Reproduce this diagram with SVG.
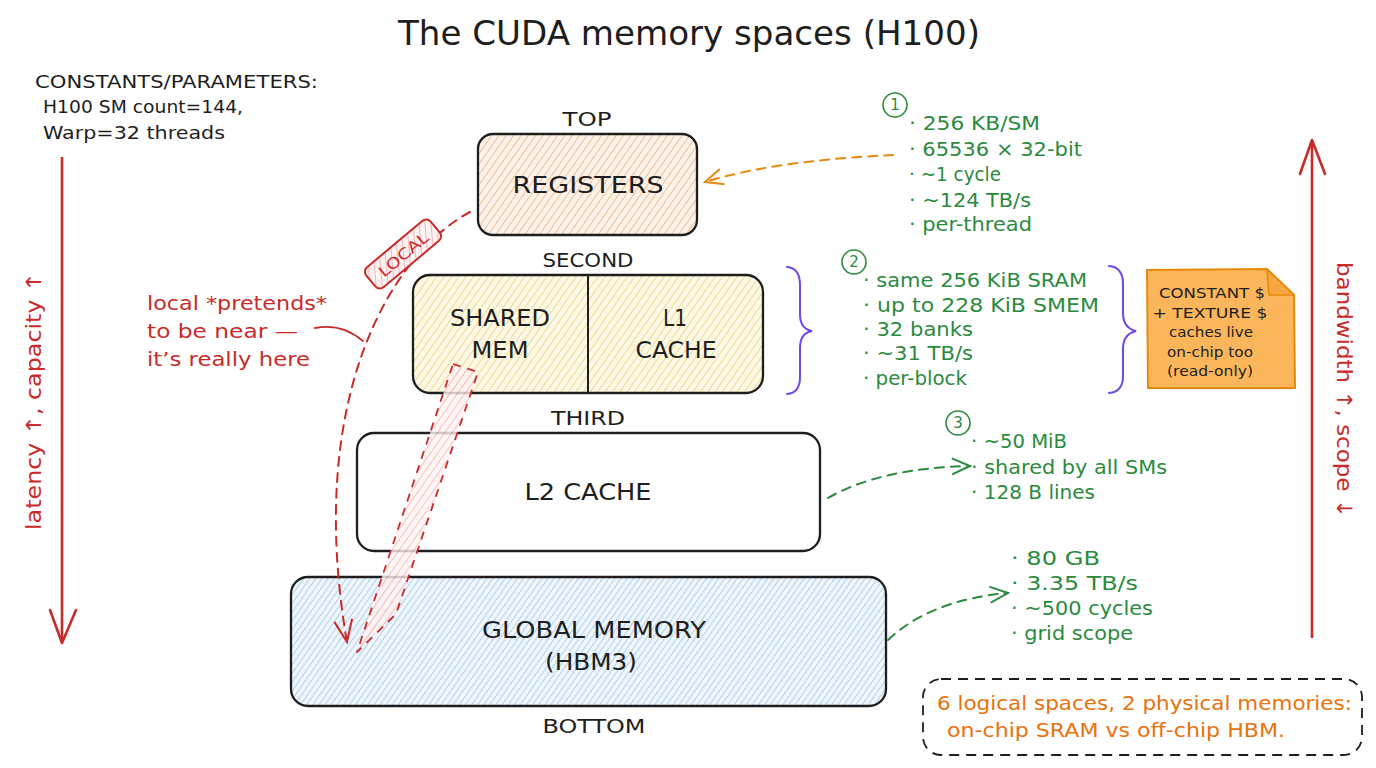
<svg xmlns="http://www.w3.org/2000/svg" width="1376" height="768" viewBox="0 0 1376 768">
<defs>
<style>
text{font-family:"DejaVu Sans","Liberation Sans",sans-serif;fill:#1e1e1e}
.t{font-size:33px}
.k{font-size:18px}
.lbl{font-size:20px;text-anchor:middle}
.box{font-size:23px;text-anchor:middle}
.g{font-size:20px;fill:#2b8a3e}
.r{font-size:20px;fill:#c92a2a}
.o{font-size:20px;fill:#e8720c}
.n{font-size:14.5px;text-anchor:middle}
.frame{stroke:#1e1e1e;stroke-width:2.3;stroke-linejoin:round}
.num{fill:none;stroke:#2b8a3e;stroke-width:1.6}
.numt{font-size:15px;fill:#2b8a3e;text-anchor:middle}
.dash{fill:none;stroke-width:2;stroke-dasharray:9 7;stroke-linecap:round}
</style>
<pattern id="hO" width="6" height="6" patternUnits="userSpaceOnUse" patternTransform="rotate(35)">
<rect width="6" height="6" fill="#fdf3ea"/><line x1="0" y1="0" x2="0" y2="6" stroke="#efb98a" stroke-width="1.8"/>
</pattern>
<pattern id="hY" width="6" height="6" patternUnits="userSpaceOnUse" patternTransform="rotate(35)">
<rect width="6" height="6" fill="#fdf9e6"/><line x1="0" y1="0" x2="0" y2="6" stroke="#ecd887" stroke-width="1.8"/>
</pattern>
<pattern id="hB" width="5" height="5" patternUnits="userSpaceOnUse" patternTransform="rotate(35)">
<rect width="5" height="5" fill="#eef5fb"/><line x1="0" y1="0" x2="0" y2="5" stroke="#98c3e6" stroke-width="1.4"/>
</pattern>
<pattern id="hR" width="6" height="6" patternUnits="userSpaceOnUse" patternTransform="rotate(35)">
<rect width="6" height="6" fill="#fff2f2"/><line x1="0" y1="0" x2="0" y2="6" stroke="#ef9f9f" stroke-width="1.5"/>
</pattern>
<marker id="aO" markerUnits="userSpaceOnUse" markerWidth="24" markerHeight="24" viewBox="0 0 24 24" refX="22" refY="12" orient="auto"><path d="M4 4 L22 12 L4 20" fill="none" stroke="#e8890c" stroke-width="2"/></marker>
<marker id="aG" markerUnits="userSpaceOnUse" markerWidth="24" markerHeight="24" viewBox="0 0 24 24" refX="22" refY="12" orient="auto"><path d="M4 4 L22 12 L4 20" fill="none" stroke="#2b8a3e" stroke-width="2"/></marker>
<marker id="aR" markerUnits="userSpaceOnUse" markerWidth="28" markerHeight="28" viewBox="0 0 28 28" refX="26" refY="14" orient="auto"><path d="M4 5 L26 14 L4 23" fill="none" stroke="#c92a2a" stroke-width="2"/></marker>
</defs>
<rect width="1376" height="768" fill="#ffffff"/>

<g id="title"><text class="t" x="398" y="45" textLength="582" lengthAdjust="spacingAndGlyphs">The CUDA memory spaces (H100)</text></g>

<g id="constants">
<text class="k" x="35" y="88" textLength="283" lengthAdjust="spacingAndGlyphs">CONSTANTS/PARAMETERS:</text>
<text class="k" x="43" y="113" textLength="200" lengthAdjust="spacingAndGlyphs">H100 SM count=144,</text>
<text class="k" x="43" y="139" textLength="182" lengthAdjust="spacingAndGlyphs">Warp=32 threads</text>
</g>

<g id="axis-left">
<line x1="62" y1="157" x2="62" y2="642" stroke="#c92a2a" stroke-width="2.6"/>
<path d="M50 610 L62 643 L76 610" fill="none" stroke="#c92a2a" stroke-width="2.6" stroke-linecap="round" stroke-linejoin="round"/>
<text class="r" transform="translate(41,401) rotate(-90)" text-anchor="middle" style="font-size:21px" textLength="258" lengthAdjust="spacingAndGlyphs">latency ↑, capacity ↑</text>
</g>

<g id="axis-right">
<line x1="1312" y1="141" x2="1312" y2="638" stroke="#c92a2a" stroke-width="2.6"/>
<path d="M1300 174 L1312 140 L1325 174" fill="none" stroke="#c92a2a" stroke-width="2.6" stroke-linecap="round" stroke-linejoin="round"/>
<text class="r" transform="translate(1337,390) rotate(90)" text-anchor="middle" style="font-size:21px" textLength="256" lengthAdjust="spacingAndGlyphs">bandwidth ↑, scope ↓</text>
</g>

<g id="registers">
<text class="lbl" x="587" y="126" textLength="49" lengthAdjust="spacingAndGlyphs">TOP</text>
<rect class="frame" x="478" y="134" width="219" height="101" rx="15" fill="url(#hO)"/>
<text class="box" x="588" y="193" textLength="151" lengthAdjust="spacingAndGlyphs">REGISTERS</text>
</g>

<g id="shared-l1">
<text class="lbl" x="588" y="267" textLength="91" lengthAdjust="spacingAndGlyphs">SECOND</text>
<rect class="frame" x="413" y="275" width="350" height="118" rx="17" fill="url(#hY)"/>
<line x1="588" y1="275" x2="588" y2="393" stroke="#1e1e1e" stroke-width="2"/>
<text class="box" x="500" y="326" textLength="100" lengthAdjust="spacingAndGlyphs">SHARED</text>
<text class="box" x="500" y="358" textLength="57" lengthAdjust="spacingAndGlyphs">MEM</text>
<text class="box" x="675" y="326" textLength="24" lengthAdjust="spacingAndGlyphs">L1</text>
<text class="box" x="676" y="358" textLength="81" lengthAdjust="spacingAndGlyphs">CACHE</text>
</g>

<g id="l2">
<text class="lbl" x="588" y="425" textLength="74" lengthAdjust="spacingAndGlyphs">THIRD</text>
<rect class="frame" x="357" y="433" width="463" height="118" rx="17" fill="#ffffff"/>
<text class="box" x="588" y="500" textLength="127" lengthAdjust="spacingAndGlyphs">L2 CACHE</text>
</g>

<g id="global">
<rect class="frame" x="291" y="577" width="595" height="129" rx="17" fill="url(#hB)"/>
<text class="box" x="594" y="638" textLength="224" lengthAdjust="spacingAndGlyphs">GLOBAL MEMORY</text>
<text class="box" x="591" y="670" textLength="92" lengthAdjust="spacingAndGlyphs">(HBM3)</text>
<text class="lbl" x="594" y="733" textLength="103" lengthAdjust="spacingAndGlyphs">BOTTOM</text>
</g>

<g id="connectors">
<path class="dash" d="M893 155 C830 158 760 165 705 182" stroke="#e8890c" marker-end="url(#aO)"/>
<path class="dash" d="M828 498 Q880 468 970 466" stroke="#2b8a3e" marker-end="url(#aG)"/>
<path class="dash" d="M888 640 Q930 600 1008 593" stroke="#2b8a3e" marker-end="url(#aG)"/>
<path class="dash" d="M470 212 C390 255 305 400 347 642" stroke="#c92a2a" marker-end="url(#aR)"/>
<polygon points="453,364 478,372 396,614 357,652" fill="url(#hR)" fill-opacity="0.8" stroke="#c92a2a" stroke-width="1.8" stroke-dasharray="8 7" stroke-linejoin="round"/>
<path d="M315 328 C335 324 350 330 363 341" fill="none" stroke="#c92a2a" stroke-width="1.8" stroke-linecap="round"/>
</g>

<g id="local-tag" transform="translate(403,254) rotate(-40)">
<rect x="-42" y="-13" width="84" height="26" rx="6" fill="url(#hR)" stroke="#c92a2a" stroke-width="2"/>
<text x="0" y="6" text-anchor="middle" style="font-size:15px;fill:#c92a2a" textLength="60" lengthAdjust="spacingAndGlyphs">LOCAL</text>
</g>

<g id="local-note">
<text class="r" x="147" y="310" textLength="180" lengthAdjust="spacingAndGlyphs">local *pretends*</text>
<text class="r" x="147" y="338" textLength="151" lengthAdjust="spacingAndGlyphs">to be near —</text>
<text class="r" x="147" y="366" textLength="163" lengthAdjust="spacingAndGlyphs">it’s really here</text>
</g>

<g id="reg-facts">
<circle class="num" cx="895" cy="105" r="12"/>
<text class="numt" x="895" y="110">1</text>
<text class="g" x="909" y="130" textLength="131" lengthAdjust="spacingAndGlyphs">· 256 KB/SM</text>
<text class="g" x="909" y="156" textLength="173" lengthAdjust="spacingAndGlyphs">· 65536 × 32-bit</text>
<text class="g" x="909" y="181" textLength="92" lengthAdjust="spacingAndGlyphs">· ~1 cycle</text>
<text class="g" x="909" y="207" textLength="122" lengthAdjust="spacingAndGlyphs">· ~124 TB/s</text>
<text class="g" x="909" y="231" textLength="123" lengthAdjust="spacingAndGlyphs">· per-thread</text>
</g>

<g id="smem-facts">
<circle class="num" cx="854" cy="262" r="12"/>
<text class="numt" x="854" y="267">2</text>
<text class="g" x="863" y="287" textLength="224" lengthAdjust="spacingAndGlyphs">· same 256 KiB SRAM</text>
<text class="g" x="863" y="312" textLength="236" lengthAdjust="spacingAndGlyphs">· up to 228 KiB SMEM</text>
<text class="g" x="863" y="336" textLength="110" lengthAdjust="spacingAndGlyphs">· 32 banks</text>
<text class="g" x="863" y="360" textLength="110" lengthAdjust="spacingAndGlyphs">· ~31 TB/s</text>
<text class="g" x="863" y="385" textLength="104" lengthAdjust="spacingAndGlyphs">· per-block</text>
<path d="M787 267 Q800 268 800 285 L800 314 Q800 329 812 331 Q800 333 800 348 L800 377 Q800 393 787 394" fill="none" stroke="#7048e8" stroke-width="2" stroke-linecap="round"/>
<path d="M1109 266 Q1123 267 1123 284 L1123 313 Q1123 328 1136 331 Q1123 334 1123 349 L1123 376 Q1123 392 1109 393" fill="none" stroke="#7048e8" stroke-width="2" stroke-linecap="round"/>
</g>

<g id="note">
<path d="M1147 270 L1267 269 L1294 295 L1295 388 L1148 388 Z" fill="#fbb65c" stroke="#e8890c" stroke-width="2" stroke-linejoin="round"/>
<path d="M1267 269 L1269 295 L1294 295 Z" fill="#f5a63f" stroke="#e8890c" stroke-width="1.6" stroke-linejoin="round"/>
<text class="n" x="1212" y="298" textLength="106" lengthAdjust="spacingAndGlyphs">CONSTANT $</text>
<text class="n" x="1210" y="318" textLength="115" lengthAdjust="spacingAndGlyphs">+ TEXTURE $</text>
<text class="n" x="1211" y="337" textLength="84" lengthAdjust="spacingAndGlyphs">caches live</text>
<text class="n" x="1210" y="357" textLength="86" lengthAdjust="spacingAndGlyphs">on-chip too</text>
<text class="n" x="1210" y="376" textLength="86" lengthAdjust="spacingAndGlyphs">(read-only)</text>
</g>

<g id="l2-facts">
<circle class="num" cx="958" cy="423" r="12"/>
<text class="numt" x="958" y="428">3</text>
<text class="g" x="971" y="448" textLength="96" lengthAdjust="spacingAndGlyphs">· ~50 MiB</text>
<text class="g" x="971" y="474" textLength="196" lengthAdjust="spacingAndGlyphs">· shared by all SMs</text>
<text class="g" x="971" y="499" textLength="124" lengthAdjust="spacingAndGlyphs">· 128 B lines</text>
</g>

<g id="global-facts">
<text class="g" x="1011" y="565" textLength="89" lengthAdjust="spacingAndGlyphs">· 80 GB</text>
<text class="g" x="1011" y="590" textLength="127" lengthAdjust="spacingAndGlyphs">· 3.35 TB/s</text>
<text class="g" x="1011" y="615" textLength="142" lengthAdjust="spacingAndGlyphs">· ~500 cycles</text>
<text class="g" x="1011" y="640" textLength="122" lengthAdjust="spacingAndGlyphs">· grid scope</text>
</g>

<g id="summary">
<rect x="923" y="679" width="439" height="76" rx="18" fill="none" stroke="#1e1e1e" stroke-width="1.8" stroke-dasharray="10 7"/>
<text class="o" x="937" y="710" textLength="415" lengthAdjust="spacingAndGlyphs">6 logical spaces, 2 physical memories:</text>
<text class="o" x="947" y="737" textLength="338" lengthAdjust="spacingAndGlyphs">on-chip SRAM vs off-chip HBM.</text>
</g>
</svg>
